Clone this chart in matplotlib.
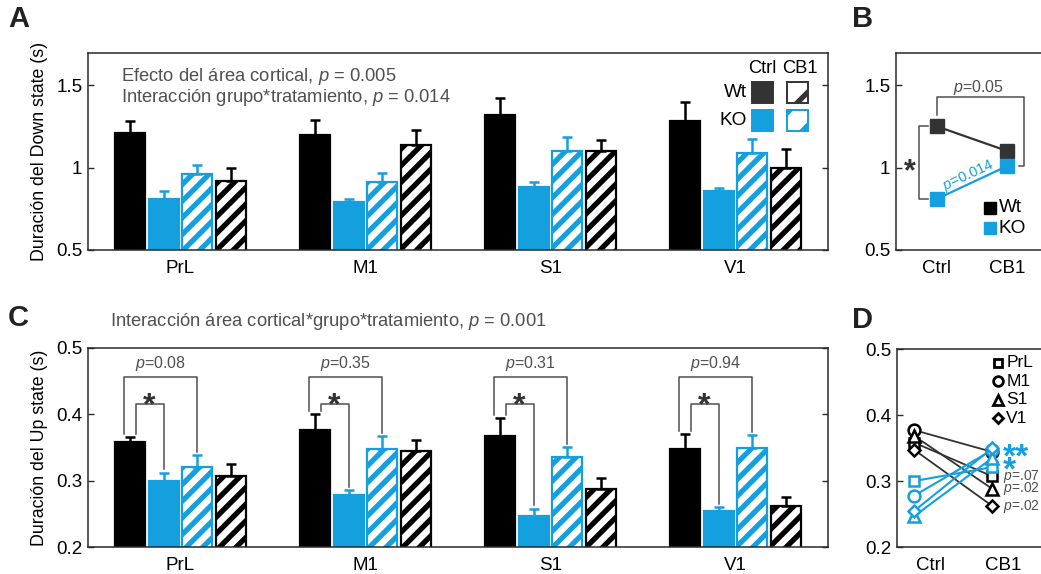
import numpy as np
import matplotlib
matplotlib.use("Agg")
import matplotlib.pyplot as plt
from matplotlib.patches import Rectangle

plt.rcParams['font.family'] = ['Liberation Sans', 'DejaVu Sans']
plt.rcParams['mathtext.fontset'] = 'custom'
plt.rcParams['mathtext.rm'] = 'Liberation Sans'
plt.rcParams['mathtext.it'] = 'Liberation Sans:italic'
plt.rcParams['hatch.linewidth'] = 3.8

# ---------------- data ----------------
areas = ['PrL', 'M1', 'S1', 'V1']
treatments = ['Ctrl', 'CB1']

# Down state duration (s), mean and SEM per cortical area
down_wt_ctrl = [1.21, 1.20, 1.32, 1.28]
down_wt_ctrl_sem = [0.07, 0.09, 0.10, 0.12]
down_ko_ctrl = [0.81, 0.79, 0.88, 0.855]
down_ko_ctrl_sem = [0.045, 0.02, 0.03, 0.02]
down_ko_cb1 = [0.96, 0.915, 1.10, 1.09]
down_ko_cb1_sem = [0.055, 0.05, 0.085, 0.085]
down_wt_cb1 = [0.92, 1.135, 1.10, 1.00]
down_wt_cb1_sem = [0.08, 0.09, 0.07, 0.115]

# Down state duration averaged over areas (Ctrl, CB1)
down_avg_wt = [1.25, 1.10]
down_avg_ko = [0.81, 1.01]

# Up state duration (s), mean and SEM per cortical area
up_wt_ctrl = [0.358, 0.377, 0.368, 0.347]
up_wt_ctrl_sem = [0.008, 0.023, 0.026, 0.023]
up_ko_ctrl = [0.300, 0.278, 0.247, 0.255]
up_ko_ctrl_sem = [0.012, 0.008, 0.011, 0.005]
up_ko_cb1 = [0.321, 0.347, 0.335, 0.350]
up_ko_cb1_sem = [0.017, 0.020, 0.016, 0.019]
up_wt_cb1 = [0.307, 0.344, 0.288, 0.262]
up_wt_cb1_sem = [0.018, 0.018, 0.016, 0.013]

# p values: KO Ctrl vs KO CB1 per area (Up state)
p_up_ko = ['0.08', '0.35', '0.31', '0.94']
# Panel D annotations next to CB1 points
d_ko_marks = {'V1': '**', 'S1': '*'}
d_wt_pvals = {'PrL': '.07', 'S1': '.02', 'V1': '.02'}

# ---------------- style ----------------
BLACK = '#000000'
DARK = '#333333'
BLUE = '#14A0DE'
GREY_TXT = '#505050'
SPINE = '#2a2a2a'
TICK_FS = 13.5
LAB_FS = 12.8
NOTE_FS = 13.2

W, H = 1041, 574
fig = plt.figure(figsize=(W / 100, H / 100), dpi=100)


def box(l, t, r, b):
    return [l / W, 1 - b / H, (r - l) / W, (b - t) / H]


def style_axes(ax, right_ticks=True):
    for s in ax.spines.values():
        s.set_color(SPINE)
        s.set_linewidth(1.1)
    ax.tick_params(axis='y', direction='in', length=4.5, width=1.0,
                   left=True, right=right_ticks, labelsize=TICK_FS, pad=4,
                   color=SPINE)
    ax.tick_params(axis='x', length=0, labelsize=TICK_FS, pad=7)


offsets = [-0.273, -0.091, 0.091, 0.273]
bar_w = 0.162


def bar_panel(ax, series, sems):
    x = np.arange(1, len(areas) + 1)
    styles = [
        dict(color=BLACK, edgecolor=BLACK),
        dict(color=BLUE, edgecolor=BLUE),
        dict(color='white', edgecolor=BLUE, hatch='//'),
        dict(color='white', edgecolor=BLACK, hatch='//'),
    ]
    for off, vals, err, st in zip(offsets, series, sems, styles):
        ax.bar(x + off, vals, width=bar_w, linewidth=1.6, zorder=2, **st)
        ax.errorbar(x + off, vals, yerr=[np.zeros(len(vals)), err], fmt='none',
                    ecolor=st['edgecolor'], elinewidth=1.8, capsize=3.6,
                    capthick=1.8, zorder=3)
    ax.set_xticks(x)
    ax.set_xticklabels(areas)
    ax.set_xlim(0.5, 4.5)


def star(ax, x, y, text='*', color=DARK, fs=22, ha='center'):
    # centre the asterisk glyph vertically on y
    ax.annotate(text, xy=(x, y), xytext=(0, -0.57 * fs), textcoords='offset points',
                ha=ha, va='baseline', fontsize=fs, color=color,
                fontweight='bold')


# ---------------- panel A ----------------
axA = fig.add_axes(box(88, 53, 828, 250))
bar_panel(axA,
          [down_wt_ctrl, down_ko_ctrl, down_ko_cb1, down_wt_cb1],
          [down_wt_ctrl_sem, down_ko_ctrl_sem, down_ko_cb1_sem, down_wt_cb1_sem])
axA.set_ylim(0.5, 1.695)
axA.set_yticks([0.5, 1, 1.5])
axA.set_yticklabels(['0.5', '1', '1.5'])
axA.set_ylabel('Duración del Down state (s)', fontsize=LAB_FS, labelpad=6)
style_axes(axA)
axA.text(0.045, 0.883, 'Efecto del área cortical, $p$ = 0.005', transform=axA.transAxes,
         fontsize=NOTE_FS, color=GREY_TXT, va='center', ha='left')
axA.text(0.045, 0.773, 'Interacción grupo*tratamiento, $p$ = 0.014', transform=axA.transAxes,
         fontsize=NOTE_FS, color=GREY_TXT, va='center', ha='left')

# legend of the four bar types
sq_w, sq_h = 0.0284, 0.1066
leg_x = [0.897, 0.944]
leg_y = [0.748, 0.604]
axA.text(0.911, 0.919, 'Ctrl', transform=axA.transAxes, ha='center', va='center',
         fontsize=NOTE_FS)
axA.text(0.962, 0.919, 'CB1', transform=axA.transAxes, ha='center', va='center',
         fontsize=NOTE_FS)
for gy, name, col in zip(leg_y, ['Wt', 'KO'], [DARK, BLUE]):
    axA.text(0.891, gy + sq_h / 2, name, transform=axA.transAxes, ha='right',
             va='center', fontsize=NOTE_FS + 0.5)
    axA.add_patch(Rectangle((leg_x[0], gy), sq_w, sq_h, transform=axA.transAxes,
                            facecolor=col, edgecolor=col, linewidth=1.4, zorder=4))
    axA.add_patch(Rectangle((leg_x[1], gy), sq_w, sq_h, transform=axA.transAxes,
                            facecolor='white', edgecolor=col, hatch='/',
                            linewidth=1.4, zorder=4))

# ---------------- panel B ----------------
axB = fig.add_axes(box(896, 53, 1042, 250))
xb = [1, 2]
axB.plot(xb, down_avg_wt, color=DARK, lw=1.6, marker='s', ms=10, mfc=DARK, mec=DARK,
         zorder=3)
axB.plot(xb, down_avg_ko, color=BLUE, lw=1.6, marker='s', ms=10, mfc=BLUE, mec=BLUE,
         zorder=3)
axB.set_xlim(0.42, 2.49)
axB.set_ylim(0.5, 1.695)
axB.set_yticks([0.5, 1, 1.5])
axB.set_yticklabels(['0.5', '1', '1.5'])
axB.set_xticks(xb)
axB.set_xticklabels(treatments)
style_axes(axB, right_ticks=False)

bk = dict(color=GREY_TXT, lw=1.1)
axB.plot([1.0, 1.0, 2.24, 2.24, 2.16], [down_avg_wt[0] + 0.07, 1.43, 1.43,
                                         down_avg_ko[1], down_avg_ko[1]], **bk)
axB.text(1.59, 1.485, '$p$=0.05', ha='center', va='center', fontsize=11.5,
         color=GREY_TXT)
axB.plot([0.876, 0.75, 0.75, 0.876], [down_avg_wt[0], down_avg_wt[0],
                                      down_avg_ko[0], down_avg_ko[0]], **bk)
star(axB, 0.62, 1.03, fs=22)
ang = np.degrees(np.arctan2(down_avg_ko[1] - down_avg_ko[0], xb[1] - xb[0]))
axB.text(1.45, 0.95, '$p$=0.014', ha='center', va='center', fontsize=10.5,
         color=BLUE, rotation=ang, transform_rotates_text=True,
         rotation_mode='anchor')
axB.plot([1.75], [0.755], 's', ms=8.5, color=BLACK)
axB.plot([1.75], [0.633], 's', ms=8.5, color=BLUE)
axB.text(1.88, 0.755, 'Wt', va='center', ha='left', fontsize=NOTE_FS + 0.5)
axB.text(1.88, 0.633, 'KO', va='center', ha='left', fontsize=NOTE_FS + 0.5)

# ---------------- panel C ----------------
axC = fig.add_axes(box(88, 348, 828, 547))
bar_panel(axC,
          [up_wt_ctrl, up_ko_ctrl, up_ko_cb1, up_wt_cb1],
          [up_wt_ctrl_sem, up_ko_ctrl_sem, up_ko_cb1_sem, up_wt_cb1_sem])
axC.set_ylim(0.2, 0.5)
axC.set_yticks([0.2, 0.3, 0.4, 0.5])
axC.set_yticklabels(['0.2', '0.3', '0.4', '0.5'])
axC.set_ylabel('Duración del Up state (s)', fontsize=LAB_FS, labelpad=6)
style_axes(axC)
fig.text(110 / W, 1 - 322 / H,
         'Interacción área cortical*grupo*tratamiento, $p$ = 0.001',
         fontsize=NOTE_FS, color=GREY_TXT, ha='left', va='center')

outer_y, inner_y, gap = 0.4565, 0.415, 0.005
for i in range(len(areas)):
    xc = i + 1
    xw, xk, xkc = xc + offsets[0], xc + offsets[1], xc + offsets[2]
    top_w = up_wt_ctrl[i] + up_wt_ctrl_sem[i] + gap
    top_k = up_ko_ctrl[i] + up_ko_ctrl_sem[i] + gap
    top_kc = up_ko_cb1[i] + up_ko_cb1_sem[i] + gap
    axC.plot([xw - 0.03, xw - 0.03, xkc, xkc], [top_w, outer_y, outer_y, top_kc], **bk)
    axC.plot([xw + 0.03, xw + 0.03, xk, xk], [top_w, inner_y, inner_y, top_k], **bk)
    axC.text((xw - 0.03 + xkc) / 2, 0.476, f'$p$={p_up_ko[i]}', ha='center',
             va='center', fontsize=11.5, color=GREY_TXT)
    star(axC, (xw + 0.03 + xk) / 2, 0.428, fs=23)

# ---------------- panel D ----------------
axD = fig.add_axes(box(897, 349, 1042, 547))
markers = ['s', 'o', '^', 'D']
msizes = [7, 8.5, 8.5, 6.5]
for i in range(len(areas)):
    axD.plot([1, 2], [up_wt_ctrl[i], up_wt_cb1[i]], color=DARK, lw=1.3,
             marker=markers[i], ms=msizes[i], mfc='white', mec=BLACK, mew=1.8,
             zorder=3)
for i in range(len(areas)):
    axD.plot([1, 2], [up_ko_ctrl[i], up_ko_cb1[i]], color=BLUE, lw=1.5,
             marker=markers[i], ms=msizes[i], mfc='white', mec=BLUE, mew=1.8,
             zorder=4)
axD.set_xlim(0.776, 2.637)
axD.set_ylim(0.2, 0.5)
axD.set_yticks([0.2, 0.3, 0.4, 0.5])
axD.set_yticklabels(['0.2', '0.3', '0.4', '0.5'])
axD.set_xticks([1.2, 2.14])
axD.set_xticklabels(treatments)
style_axes(axD, right_ticks=False)

leg_ys = [0.479, 0.451, 0.423, 0.395]
for i, name in enumerate(areas):
    axD.plot([2.07], [leg_ys[i]], markers[i], ms=msizes[i] - 1.5, mfc='white',
             mec=BLACK, mew=2.0)
    axD.text(2.18, leg_ys[i], name, va='center', ha='left', fontsize=12.5)

for name, mark in d_ko_marks.items():
    i = areas.index(name)
    star(axD, 2.13, up_ko_cb1[i] + (0.0 if mark == '**' else -0.004), text=mark,
         color=BLUE, fs=24, ha='left')
for name, pv in d_wt_pvals.items():
    i = areas.index(name)
    axD.text(2.14, up_wt_cb1[i], f'$p$={pv}', va='center', ha='left',
             fontsize=10, color=GREY_TXT)

# panel letters
for letter, (px, py) in zip('ABCD', [(8, 5), (852, 5), (8, 304), (852, 306)]):
    fig.text(px / W, 1 - py / H, letter, fontsize=21, fontweight='bold',
             ha='left', va='top', color='#222222')

fig.savefig('out.png', dpi=100)
